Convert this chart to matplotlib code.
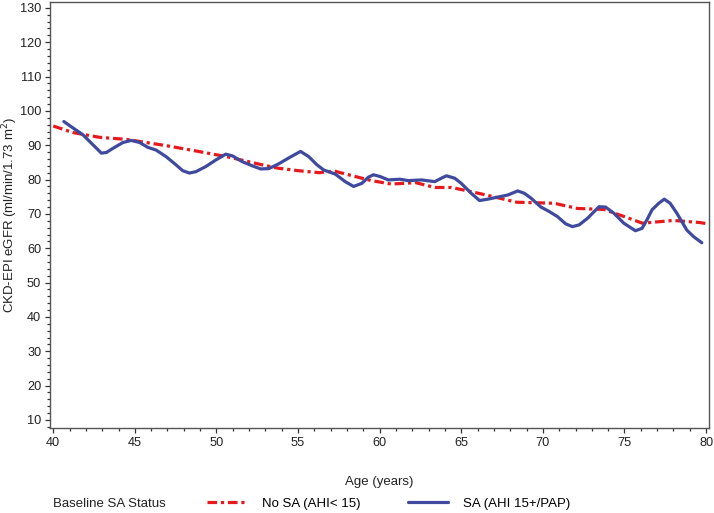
import matplotlib
matplotlib.use("Agg")
import matplotlib.pyplot as plt
from matplotlib.ticker import MultipleLocator

plt.rcParams["font.family"] = ["Liberation Sans", "DejaVu Sans"]

# Age (years) and eGFR values
age_no_sa = [40.0, 41.2, 42.85, 44.5, 46.9, 48.9, 50.8, 52.7, 53.8, 55.0,
             56.3, 57.2, 58.5, 59.5, 60.7, 62.2, 63.4, 64.4, 65.6, 66.8,
             68.4, 70.7, 72.1, 73.75, 75.0, 76.1, 78.0, 79.6, 80.0]
egfr_no_sa = [95.6, 93.7, 92.3, 91.7, 89.9, 88.2, 86.5, 84.4, 83.3, 82.6,
              82.0, 82.5, 80.9, 79.7, 78.7, 79.1, 77.7, 77.7, 76.5, 75.2,
              73.4, 73.1, 71.6, 71.3, 69.2, 67.3, 68.1, 67.5, 67.2]

age_sa = [40.65, 41.22, 41.83, 42.44, 42.95, 43.26, 43.66, 44.27, 44.78,
          45.29, 45.79, 46.3, 46.91, 47.52, 47.93, 48.34, 48.74, 49.35,
          49.96, 50.57, 50.98, 51.59, 52.2, 52.71, 53.21, 53.82, 54.43,
          55.15, 55.65, 56.16, 56.57, 57.28, 57.89, 58.4, 58.91, 59.31,
          59.62, 60.02, 60.53, 61.24, 61.75, 62.56, 63.38, 63.78, 64.09,
          64.6, 65.0, 65.61, 66.12, 66.63, 67.24, 67.85, 68.46, 68.87,
          69.27, 69.88, 70.39, 70.9, 71.4, 71.81, 72.22, 72.73, 73.44,
          73.84, 74.35, 74.96, 75.67, 76.08, 76.38, 76.69, 77.1, 77.44,
          77.8, 78.21, 78.82, 79.23, 79.74]
egfr_sa = [96.9, 95.0, 93.0, 90.1, 87.7, 87.9, 89.1, 90.8, 91.4,
           90.8, 89.4, 88.6, 86.7, 84.3, 82.6, 81.9, 82.3, 83.8,
           85.7, 87.4, 86.9, 85.2, 84.0, 83.1, 83.2, 84.6, 86.3,
           88.2, 86.7, 84.3, 82.8, 81.6, 79.4, 78.0, 78.9, 80.7,
           81.4, 80.9, 79.9, 80.1, 79.7, 79.9, 79.4, 80.4, 81.1,
           80.4, 78.9, 76.0, 73.9, 74.3, 74.9, 75.5, 76.7, 76.0,
           74.6, 72.0, 70.7, 69.2, 67.1, 66.3, 66.8, 68.7, 72.1,
           72.0, 70.2, 67.3, 65.1, 65.8, 68.3, 71.2, 73.1, 74.3,
           73.1, 70.2, 65.3, 63.4, 61.6]

RED = "#E8191C"
BLUE = "#3F4A9E"

fig = plt.figure(figsize=(7.14, 5.13), dpi=100)
ax = fig.add_axes([0.070, 0.166, 0.923, 0.830])

l1, = ax.plot(age_no_sa, egfr_no_sa, color=RED, linewidth=2.3,
              linestyle=(0, (3, 1.2, 1, 1.2)), label="No SA (AHI< 15)")
l2, = ax.plot(age_sa, egfr_sa, color=BLUE, linewidth=2.3,
              solid_capstyle="round", solid_joinstyle="round",
              label="SA (AHI 15+/PAP)")

ax.set_xlim(39.8, 80.18)
ax.set_ylim(7.7, 131.7)
ax.xaxis.set_major_locator(MultipleLocator(5))
ax.xaxis.set_minor_locator(MultipleLocator(1))
ax.yaxis.set_major_locator(MultipleLocator(10))
ax.yaxis.set_minor_locator(MultipleLocator(2))
ax.set_yticks(range(10, 131, 10))
ax.tick_params(which="major", length=3.8, width=0.9, pad=2.5,
               colors="#333333", labelsize=9.2, labelcolor="#222222")
ax.tick_params(which="minor", length=2.3, width=0.9, colors="#333333")
for s in ax.spines.values():
    s.set_color("#555555")
    s.set_linewidth(1.0)

ax.set_xlabel("Age (years)", fontsize=9.5, color="#222222")
ax.xaxis.set_label_coords(0.5, -0.114)
ax.set_ylabel("CKD-EPI eGFR (ml/min/1.73 m$^2$)", fontsize=9.5,
              color="#222222")
ax.yaxis.set_label_coords(-0.046, 0.5)

fig.text(53 / 714, 0.018, "Baseline SA Status", fontsize=9.5,
         color="#222222", va="center", ha="left")
fig.legend(handles=[l1, l2], loc="center left",
           bbox_to_anchor=(0.2727, 0.018), ncol=2, frameon=False,
           fontsize=9.5, handlelength=3.0, handletextpad=1.2,
           columnspacing=3.6)

fig.savefig("out.png", dpi=100)
